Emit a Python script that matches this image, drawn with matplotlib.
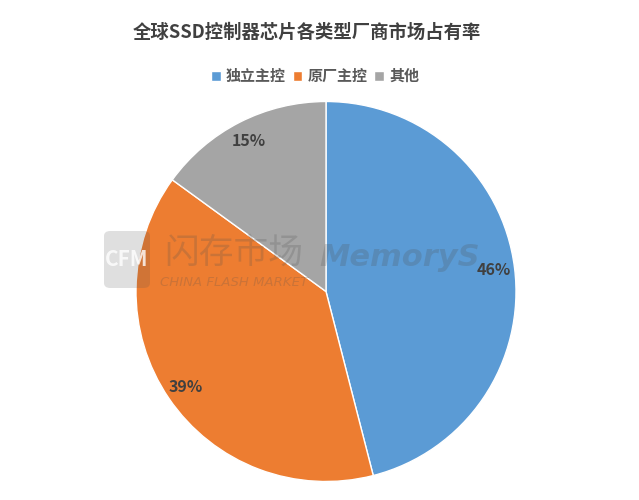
import matplotlib
matplotlib.use("Agg")
import matplotlib.pyplot as plt
from matplotlib.patches import FancyBboxPatch

plt.rcParams['font.family'] = ['Noto Sans CJK SC', 'DejaVu Sans']

title = "全球SSD控制器芯片各类型厂商市场占有率"
categories = ["独立主控", "原厂主控", "其他"]
shares = [46, 39, 15]
colors = ["#5B9BD5", "#ED7D31", "#A5A5A5"]

W, H = 639, 500
fig = plt.figure(figsize=(W / 100, H / 100), dpi=100)
fig.patch.set_facecolor("white")

cx, cy, r = 326, 291.5, 190
ax = fig.add_axes([(cx - r) / W, (H - cy - r) / H, 2 * r / W, 2 * r / H])
wedges, texts, autotexts = ax.pie(
    shares, colors=colors, startangle=90, counterclock=False,
    autopct=lambda p: f"{p:.0f}%", pctdistance=0.89,
    wedgeprops=dict(edgecolor="white", linewidth=1.0),
    textprops=dict(color="#404040", fontsize=11.5, fontweight="bold"))
ax.set_xlim(-1, 1)
ax.set_ylim(-1, 1)
ax.set_aspect("equal")
ax.axis("off")
for t in autotexts:
    t.set_zorder(10)

fig.text(307 / W, 1 - 32 / H, title, ha="center", va="center",
         fontsize=13.2, fontweight="bold", color="#404040")

leg = fig.legend(wedges, categories, loc="center", bbox_to_anchor=(315 / W, 1 - 76 / H),
                 ncol=3, frameon=False, handlelength=0.65, handleheight=0.65,
                 handletextpad=0.35, columnspacing=0.45,
                 prop=dict(size=10.8, weight="bold"))
for t in leg.get_texts():
    t.set_color("#595959")

# watermarks
wm = "#505050"
box = FancyBboxPatch((104 / W, 1 - 288 / H), 46 / W, 57 / H,
                     boxstyle="round,pad=0,rounding_size=0.01",
                     transform=fig.transFigure, facecolor=wm, alpha=0.18,
                     edgecolor="none", zorder=5)
fig.patches.append(box)
fig.text(127 / W, 1 - 259 / H, "CFM", ha="center", va="center", fontsize=15,
         color="white", alpha=0.8, fontweight="bold", zorder=6)
fig.text(234 / W, 1 - 253 / H, "闪存市场", ha="center", va="center", fontsize=25,
         color=wm, alpha=0.22, fontstyle="italic", zorder=6)
fig.text(234 / W, 1 - 283 / H, "CHINA FLASH MARKET", ha="center", va="center",
         fontsize=9.5, color=wm, alpha=0.22, fontstyle="italic",
         family="DejaVu Sans", zorder=6)
fig.text(400 / W, 1 - 257 / H, "MemoryS", ha="center", va="center", fontsize=22,
         color=wm, alpha=0.22, fontstyle="italic", fontweight="bold",
         family="DejaVu Sans", zorder=6)

fig.savefig("out.png", dpi=100, facecolor="white")
